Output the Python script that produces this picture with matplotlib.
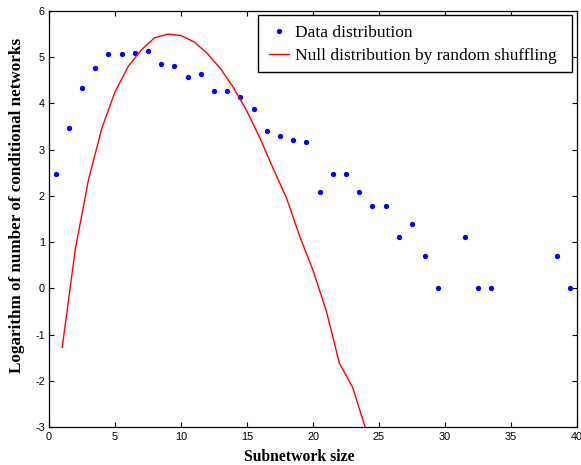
import matplotlib
matplotlib.use("Agg")
import matplotlib.pyplot as plt
from matplotlib.patches import Rectangle

# Data distribution (log of counts)
data_x = [0.5, 1.5, 2.5, 3.5, 4.5, 5.5, 6.5, 7.5, 8.5, 9.5, 10.5, 11.5, 12.5, 13.5,
          14.5, 15.5, 16.5, 17.5, 18.5, 19.5, 20.5, 21.5, 22.5, 23.5, 24.5, 25.5,
          26.5, 27.5, 28.5, 29.5, 31.5, 32.5, 33.5, 38.5, 39.5]
data_y = [2.48, 3.47, 4.33, 4.77, 5.06, 5.08, 5.10, 5.13, 4.86, 4.80, 4.57, 4.64,
          4.28, 4.28, 4.13, 3.88, 3.40, 3.29, 3.21, 3.17, 2.08, 2.48, 2.48, 2.08,
          1.79, 1.79, 1.10, 1.39, 0.69, 0.00, 1.10, 0.00, 0.00, 0.69, 0.00]

# Null distribution by random shuffling
null_x = list(range(1, 26))
null_y = [-1.28, 0.86, 2.36, 3.46, 4.25, 4.80, 5.16, 5.42, 5.50, 5.47, 5.33, 5.08,
          4.75, 4.33, 3.83, 3.24, 2.58, 1.95, 1.12, 0.39, -0.48, -1.62, -2.14,
          -3.05, -4.2]

x_ticks = [0, 5, 10, 15, 20, 25, 30, 35, 40]
y_ticks = [-3, -2, -1, 0, 1, 2, 3, 4, 5, 6]

W, H = 581, 465
fig = plt.figure(figsize=(W/100, H/100), dpi=100)
L, R, T, B = 49, 577, 11, 427
ax = fig.add_axes([L/W, 1-B/H, (R-L)/W, (B-T)/H])

ax.plot(data_x, data_y, linestyle='none', marker='o', markersize=2.8,
        color='#0000ff', label='Data distribution', clip_on=False)
ax.plot(null_x, null_y, color='#ff0000', linewidth=1.0,
        label='Null distribution by random shuffling')

ax.set_xlim(0, 40)
ax.set_ylim(-3, 6)
ax.set_xticks(x_ticks)
ax.set_yticks(y_ticks)
ax.set_xticklabels([str(t) for t in x_ticks])
ax.set_yticklabels([str(t) for t in y_ticks])
ax.tick_params(direction='in', top=True, right=True, length=3.6, width=0.8,
               labelsize=7.8)
ax.tick_params(axis='x', pad=3.5)
ax.tick_params(axis='y', pad=3)
for lab in ax.get_xticklabels() + ax.get_yticklabels():
    lab.set_family(['Liberation Sans', 'DejaVu Sans'])
for s in ax.spines.values():
    s.set_linewidth(0.9)

ax.set_xlabel('Subnetwork size', fontfamily='Liberation Serif', fontweight='bold',
              fontsize=11.3)
ax.set_ylabel('Logarithm of number of conditional networks',
              fontfamily='Liberation Serif', fontweight='bold', fontsize=12.3)
ax.xaxis.set_label_coords((299-L)/(R-L), (B-457)/(B-T), transform=ax.transAxes)
ax.yaxis.set_label_coords((17-L)/(R-L), (B-205)/(B-T), transform=ax.transAxes)
ax.xaxis.label.set_va('center')
ax.yaxis.label.set_va('center')

# legend frame as in the reference
frame = Rectangle((258/W, 1-72/H), (572-258)/W, (72-15)/H, transform=fig.transFigure,
                  facecolor='white', edgecolor='black', linewidth=1.0,
                  zorder=4.5, clip_on=False)
ax.add_patch(frame)

leg = ax.legend(loc='upper left', bbox_to_anchor=(269/W, 1-24.5/H),
                bbox_transform=fig.transFigure,
                prop={'family': 'Liberation Serif', 'size': 12.5},
                frameon=False, borderpad=0, handlelength=1.15, handletextpad=0.35,
                labelspacing=0.42, borderaxespad=0)

fig.savefig('out.png', dpi=100)
